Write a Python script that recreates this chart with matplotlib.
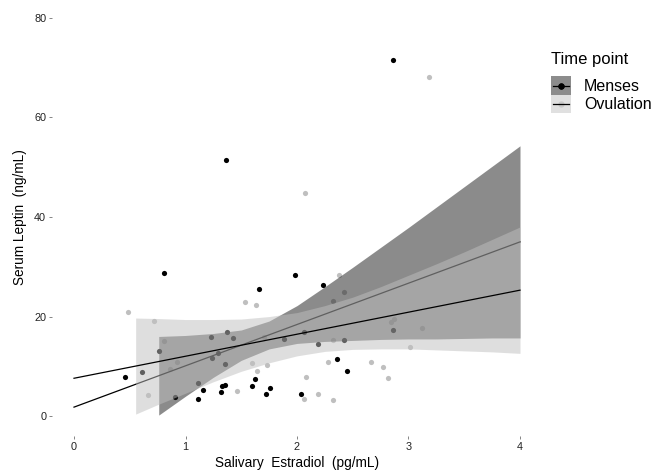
import matplotlib
matplotlib.use("Agg")
import matplotlib.pyplot as plt
from matplotlib.patches import Rectangle
from matplotlib.lines import Line2D

plt.rcParams['font.family'] = ['Liberation Sans', 'DejaVu Sans']

# scatter points
menses_x = [1.36, 2.86, 0.81, 1.98, 2.23, 1.66, 0.46, 0.61, 0.76, 0.91, 1.11, 1.16,
            1.11, 1.32, 1.33, 1.35, 1.23, 1.37, 1.43, 1.24, 1.29, 1.35, 1.60, 1.62,
            1.72, 1.76, 1.88, 2.06, 2.04, 2.19, 2.42, 2.36, 2.45, 2.86]
menses_y = [51.4, 71.6, 28.7, 28.3, 26.3, 25.6, 7.8, 8.9, 13.1, 3.9, 3.4, 5.2,
            6.6, 4.8, 6.1, 6.2, 15.8, 16.8, 15.6, 11.6, 12.7, 10.4, 6.0, 7.5,
            4.5, 5.7, 15.4, 16.9, 4.4, 14.5, 15.2, 11.5, 9.1, 17.3]

ovul_x = [2.07, 3.18, 1.53, 1.63, 0.48, 0.72, 0.81, 0.66, 0.86, 0.92, 1.46, 1.60,
          1.64, 1.73, 2.08, 2.06, 2.19, 2.28, 2.38, 2.42, 2.32, 2.32, 2.84, 2.87,
          3.12, 3.01, 2.66, 2.77, 2.82, 2.32, 1.70]
ovul_y = [44.8, 68.1, 23.0, 22.4, 20.9, 19.2, 15.1, 4.3, 9.4, 10.9, 5.0, 10.6,
          9.0, 10.2, 7.9, 3.4, 4.5, 10.8, 28.3, 24.9, 23.1, 15.3, 19.0, 19.6,
          17.6, 13.8, 10.8, 9.9, 7.6, 3.3, 15.9]

# fitted lines (endpoints)
line_x = [0, 4]
menses_line = [1.8, 35.0]
ovul_line = [7.6, 25.3]

# confidence bands
menses_band_x = [0.76, 1.0, 1.25, 1.5, 1.75, 2.0, 2.25, 2.5, 2.75, 3.0, 3.25, 3.5, 3.75, 4.0]
menses_lo = [0.2, 4.0, 7.8, 11.2, 13.5, 14.6, 15.0, 15.2, 15.4, 15.5, 15.5, 15.6, 15.7, 15.7]
menses_hi = [16.0, 16.2, 16.6, 17.3, 19.1, 22.2, 26.0, 29.9, 33.9, 37.9, 42.0, 46.1, 50.2, 54.3]

ovul_band_x = [0.553, 0.75, 1.0, 1.25, 1.5, 1.75, 2.0, 2.25, 2.5, 2.75, 3.0, 3.25, 3.5, 3.75, 4.0]
ovul_lo = [0.4, 2.3, 4.6, 6.9, 9.0, 10.7, 12.1, 13.0, 13.4, 13.5, 13.5, 13.3, 13.1, 12.9, 12.6]
ovul_hi = [19.7, 19.6, 19.4, 19.4, 19.5, 20.0, 20.8, 22.2, 23.9, 26.0, 28.3, 30.6, 33.0, 35.5, 38.0]


class KeyHandler:
    # box + dot + line, like a ggplot key
    def legend_artist(self, legend, orig_handle, fontsize, handlebox):
        x0, y0 = handlebox.xdescent, handlebox.ydescent
        w, h = handlebox.width, handlebox.height
        tr = handlebox.get_transform()
        box = Rectangle((-x0, -y0), w, h, facecolor=orig_handle[0], edgecolor='none',
                        transform=tr)
        dot = Line2D([-x0 + w / 2], [-y0 + h / 2], marker='o', markersize=4.5,
                     markerfacecolor=orig_handle[1], markeredgewidth=0, linestyle='none',
                     transform=tr)
        ln = Line2D([-x0 + 0.1 * w, -x0 + 0.9 * w], [-y0 + h / 2] * 2, color='black',
                    lw=0.9, transform=tr)
        for a in (box, dot, ln):
            handlebox.add_artist(a)
        if orig_handle[1] == 'black':
            handlebox.add_artist(Line2D([-x0 + w / 2], [-y0 + h / 2], marker='o',
                                        markersize=4.5, markerfacecolor='black',
                                        markeredgewidth=0, linestyle='none', transform=tr))
        return box


W, H = 657, 472
fig = plt.figure(figsize=(W / 100, H / 100), dpi=100)
ax = fig.add_axes([51.7 / W, (H - 436) / H, 490.6 / W, 438 / H])

ax.scatter(ovul_x, ovul_y, s=14, color='#bfbfbf', linewidths=0, zorder=1)
ax.scatter(menses_x, menses_y, s=14, color='black', linewidths=0, zorder=1)

ax.fill_between(menses_band_x, menses_lo, menses_hi, color='#191919', alpha=0.5,
                linewidth=0, zorder=2)
ax.plot(line_x, menses_line, color='black', lw=0.9, zorder=3)
ax.fill_between(ovul_band_x, ovul_lo, ovul_hi, color='#bfbfbf', alpha=0.5,
                linewidth=0, zorder=4)
ax.plot(line_x, ovul_line, color='black', lw=0.9, zorder=5)

ax.set_xlim(-0.2, 4.2)
ax.set_ylim(-4, 84)
ax.set_xticks([0, 1, 2, 3, 4])
ax.set_yticks([0, 20, 40, 60, 80])
for s in ax.spines.values():
    s.set_visible(False)
ax.tick_params(length=2, width=0.5, color='#555555', labelsize=7.8,
               labelcolor='#222222', pad=2)

ax.set_xlabel('Salivary  Estradiol  (pg/mL)', fontsize=9.8, labelpad=3)
ax.set_ylabel('Serum Leptin  (ng/mL)', fontsize=9.8, labelpad=5)

keys = [('#8c8c8c', 'black'), ('#e0e0e0', '#c8c8c8')]
leg = ax.legend(keys, ['Menses', 'Ovulation'],
                handler_map={tuple: KeyHandler()},
                title='Time point', fontsize=11.5, title_fontsize=12,
                frameon=False, loc='upper left', bbox_to_anchor=(0.994, 0.903),
                handlelength=1.25, handleheight=1.4, handletextpad=0.85,
                labelspacing=0.0, borderaxespad=0.3)
leg._legend_box.align = 'left'
leg._legend_box.sep = 7

fig.savefig('out.png', dpi=100)
